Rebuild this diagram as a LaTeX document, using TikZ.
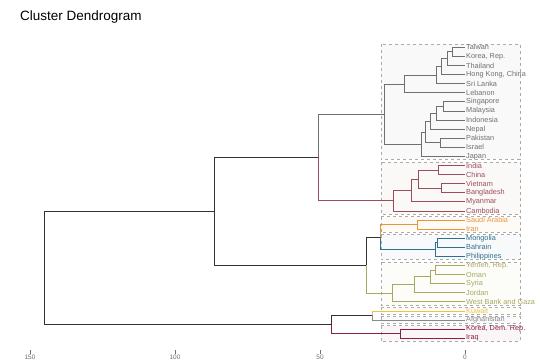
\documentclass[tikz,border=0pt]{standalone}
\usepackage{fontspec}
\setmainfont{Liberation Sans}
\usepackage{xcolor}
\usetikzlibrary{positioning}
\definecolor{linkc}{HTML}{333333}
\definecolor{boxc}{HTML}{ABABAB}
\definecolor{grpA}{HTML}{707070}
\definecolor{grpB}{HTML}{9B4D5C}
\definecolor{grpC}{HTML}{E8943A}
\definecolor{grpD}{HTML}{2F6F8F}
\definecolor{grpE}{HTML}{A8A860}
\definecolor{grpF}{HTML}{E8C547}
\definecolor{grpG}{HTML}{8A8A8A}
\definecolor{grpH}{HTML}{8E1F3F}

\begin{document}
\begin{tikzpicture}[x=1pt, y=-1pt,
    leaf/.style={anchor=west, inner sep=1pt, font=\fontsize{7.3}{8}\selectfont},
    link/.style={line width=0.8pt, draw=#1}, link/.default=linkc,
    clbox/.style={dashed, draw=boxc, fill=#1!4, line width=0.6pt},
    ticklab/.style={inner sep=0pt, text=grpA, font=\fontsize{6.5}{7}\selectfont}]
\useasboundingbox (0,0) rectangle (540,362);

\node (title) [anchor=base west, inner sep=0pt, font=\fontsize{13.5}{15}\selectfont] at (20,20) {Cluster Dendrogram};

% cluster boxes
\draw[clbox=grpA] (381,43.8) rectangle (520,159.4);
\draw[clbox=grpB] (381,162.0) rectangle (520,213.9);
\draw[clbox=grpC] (381,216.5) rectangle (520,232.1);
\draw[clbox=grpD] (381,234.7) rectangle (520,259.4);
\draw[clbox=grpE] (381,262.0) rectangle (520,304.8);
\draw[clbox=grpF] (381,307.4) rectangle (520,313.9);
\draw[clbox=grpG] (381,316.5) rectangle (520,323.0);
\draw[clbox=grpH] (381,325.6) rectangle (520,341.2);

% leaves
\foreach \i/\nm/\lab/\col in {
    0/twn/Taiwan/grpA, 1/kor/{Korea, Rep.}/grpA, 2/tha/Thailand/grpA,
    3/hkg/{Hong Kong, China}/grpA, 4/lka/Sri Lanka/grpA, 5/lbn/Lebanon/grpA,
    6/sgp/Singapore/grpA, 7/mys/Malaysia/grpA, 8/idn/Indonesia/grpA,
    9/npl/Nepal/grpA, 10/pak/Pakistan/grpA, 11/isr/Israel/grpA, 12/jpn/Japan/grpA,
    13/ind/India/grpB, 14/chn/China/grpB, 15/vnm/Vietnam/grpB,
    16/bgd/Bangladesh/grpB, 17/mmr/Myanmar/grpB, 18/khm/Cambodia/grpB,
    19/sau/Saudi Arabia/grpC, 20/irn/Iran/grpC,
    21/mng/Mongolia/grpD, 22/bhr/Bahrain/grpD, 23/phl/Philippines/grpD,
    24/yem/{Yemen, Rep.}/grpE, 25/omn/Oman/grpE, 26/syr/Syria/grpE,
    27/jor/Jordan/grpE, 28/wbg/West Bank and Gaza/grpE,
    29/kwt/Kuwait/grpF, 30/afg/Afghanistan/grpG,
    31/prk/{Korea, Dem. Rep.}/grpH, 32/irq/Iraq/grpH}
  \node[leaf, text=\col] (\nm) at (465, {47.3+9.09*\i}) {\lab};

% merge points
\coordinate (a1) at (452,51.85);
\coordinate (a2) at (447,58.67);
\coordinate (a3) at (441,66.62);
\coordinate (a4) at (436.5,75.14);
\coordinate (a5) at (404,83.95);
\coordinate (b1) at (443,106.39);
\coordinate (b2) at (436,113.20);
\coordinate (b3) at (430,121.16);
\coordinate (b4) at (440.5,142.75);
\coordinate (b5) at (425,131.95);
\coordinate (b6) at (421,144.16);
\coordinate (c1) at (384,114.06);
\coordinate (r1) at (438.3,170.02);
\coordinate (r2) at (441.7,188.20);
\coordinate (r3) at (418.3,179.11);
\coordinate (r4) at (411,190.47);
\coordinate (r5) at (393.3,200.69);
\coordinate (d1) at (318.3,157.38);
\coordinate (o1) at (417.7,224.56);
\coordinate (u1) at (437.7,242.74);
\coordinate (u2) at (435,249.55);
\coordinate (o2) at (380.7,237.05);
\coordinate (v1) at (435,270.0);
\coordinate (v2) at (430,276.82);
\coordinate (v3) at (414.3,284.78);
\coordinate (v4) at (392.7,293.30);
\coordinate (d2) at (366.7,265.18);
\coordinate (e1) at (214,211.28);
\coordinate (k1) at (372.7,315.46);
\coordinate (k2) at (400.7,333.64);
\coordinate (e2) at (331,324.55);
\coordinate (root) at (44,267.9);

% branches
\foreach \p/\c/\col in {
    root/e1/linkc, root/e2/linkc, e1/d1/linkc, e1/d2/linkc,
    d1/c1/grpA, c1/a5/grpA, c1/b6/grpA,
    a5/a4/grpA, a5/lbn.west/grpA, a4/a3/grpA, a4/lka.west/grpA,
    a3/a2/grpA, a3/hkg.west/grpA, a2/a1/grpA, a2/tha.west/grpA,
    a1/twn.west/grpA, a1/kor.west/grpA,
    b6/b5/grpA, b6/jpn.west/grpA, b5/b3/grpA, b5/b4/grpA,
    b3/b2/grpA, b3/npl.west/grpA, b2/b1/grpA, b2/idn.west/grpA,
    b1/sgp.west/grpA, b1/mys.west/grpA, b4/pak.west/grpA, b4/isr.west/grpA,
    d1/r5/grpB, r5/r4/grpB, r5/khm.west/grpB, r4/r3/grpB, r4/mmr.west/grpB,
    r3/r1/grpB, r3/r2/grpB, r1/ind.west/grpB, r1/chn.west/grpB,
    r2/vnm.west/grpB, r2/bgd.west/grpB,
    d2/o2/linkc, o2/o1/grpC, o1/sau.west/grpC, o1/irn.west/grpC,
    o2/u2/grpD, u2/u1/grpD, u2/phl.west/grpD, u1/mng.west/grpD, u1/bhr.west/grpD,
    d2/v4/grpE, v4/v3/grpE, v4/wbg.west/grpE, v3/v2/grpE, v3/jor.west/grpE,
    v2/v1/grpE, v2/syr.west/grpE, v1/yem.west/grpE, v1/omn.west/grpE,
    e2/k1/linkc, k1/kwt.west/grpF, k1/afg.west/grpG,
    e2/k2/grpH, k2/prk.west/grpH, k2/irq.west/grpH}
  \draw[link=\col] (\p) |- (\c);

% height axis
\foreach \h in {150,100,50,0} {
  \coordinate (t\h) at ({465-2.9*\h},353.5);
  \draw[grpA, line width=0.5pt] (t\h) -- ++(0,-3.5);
  \node[ticklab, below=1pt of t\h] (l\h) {\h};
}
\end{tikzpicture}
\end{document}
